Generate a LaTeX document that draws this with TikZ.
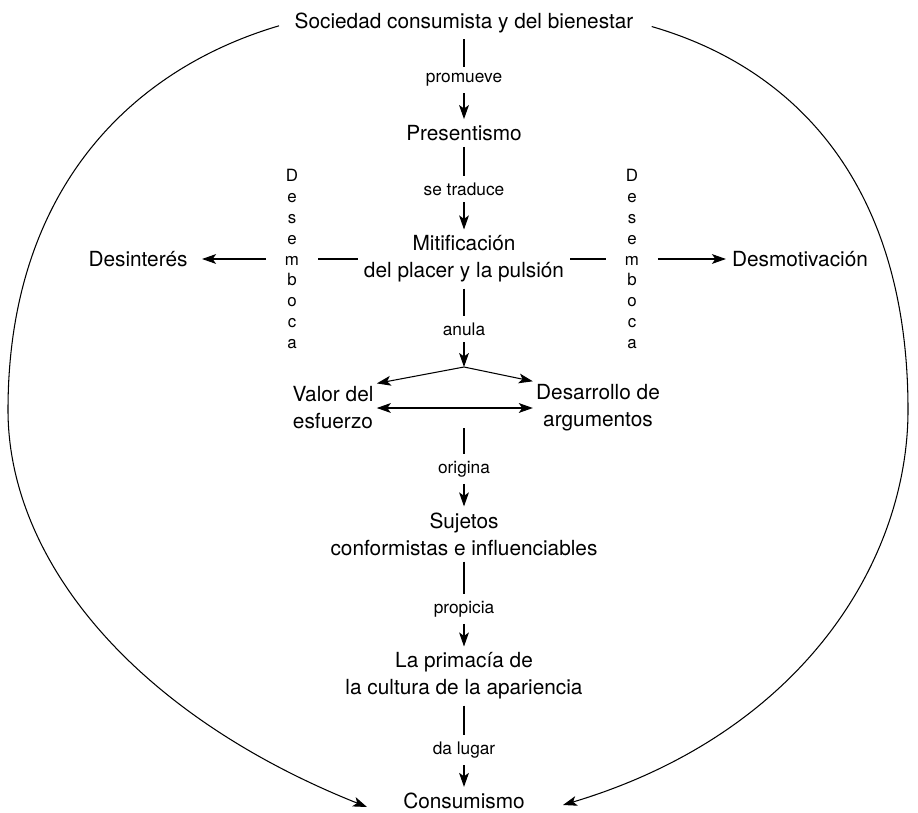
\documentclass[tikz,border=0pt]{standalone}
\usepackage{fontspec}
\setmainfont{TeX Gyre Heros}
\usetikzlibrary{arrows.meta}

\tikzset{
  main/.style={font=\fontsize{14.8}{19.2}\selectfont, align=center, inner sep=4pt},
  lbl/.style={font=\fontsize{12.3}{14}\selectfont, inner sep=4.5pt},
  vword/.style={font=\fontsize{12}{14.9}\selectfont, align=center, inner xsep=13pt},
  tip/.style={-{Stealth[length=10pt,width=7pt,inset=2.5pt]}},
  dtip/.style={{Stealth[length=10pt,width=7pt,inset=2.5pt]}-{Stealth[length=10pt,width=7pt,inset=2.5pt]}},
}

\begin{document}
\begin{tikzpicture}[x=0.025cm, y=-0.025cm, line width=0.75pt]
\useasboundingbox (0,0) rectangle (918,813);

\node[main] (soc) at (464,23) {Sociedad consumista y del bienestar};
\node[lbl] (promueve) at (464,80) {promueve};
\node[main] (pres) at (464,133) {Presentismo};
\node[lbl] (traduce) at (464,189) {se traduce};
\node[main] (mit) at (464,259) {Mitificación\\del placer y la pulsión};
\node[lbl] (anula) at (464,329) {anula};
\coordinate (split) at (464,367);
\node[main, inner sep=2pt] (valor) at (333,408) {Valor del\\esfuerzo};
\node[main, inner sep=2pt] (desarr) at (598,408) {Desarrollo de\\argumentos};
\coordinate (orig) at (464,428);
\node[lbl] (origina) at (464,469) {origina};
\node[main] (suj) at (464,534) {Sujetos\\conformistas e influenciables};
\node[lbl] (propicia) at (464,609) {propicia};
\node[main] (prim) at (464,676) {La primacía de\\la cultura de la apariencia};
\node[lbl] (lugar) at (464,750) {da lugar};
\node[main] (cons) at (464,801) {Consumismo};

\node[main, inner xsep=10pt] (desint) at (138,259) {Desinterés};
\node[main] (desmot) at (800,259) {Desmotivación};
\node[vword] (dizq) at (292,259) {D\\e\\s\\e\\m\\b\\o\\c\\a};
\node[vword] (dder) at (632,259) {D\\e\\s\\e\\m\\b\\o\\c\\a};

\draw (soc) -- (promueve);
\draw[tip] (promueve) -- (pres);
\draw (pres) -- (traduce);
\draw[tip] (traduce) -- (mit);
\draw (mit) -- (anula);
\draw[tip] (anula) -- (split);
\draw[tip] (split) -- (valor.north east);
\draw[tip] (split) -- (desarr.north west);
\draw[dtip] (valor) -- (desarr);
\draw (orig) -- (origina);
\draw[tip] (origina) -- (suj);
\draw (suj) -- (propicia);
\draw[tip] (propicia) -- (prim);
\draw (prim) -- (lugar);
\draw[tip] (lugar) -- (cons);

\draw (mit) -- (dizq);
\draw[tip] (dizq) -- (desint);
\draw (mit) -- (dder);
\draw[tip] (dder) -- (desmot);

\coordinate (izq) at (367,807);
\coordinate (der) at (563,805);
\draw[tip, shorten <=7pt] (soc.west) .. controls (126,71) and (8,195) .. (8,410)
  .. controls (8,560) and (134,714) .. (izq);
\draw[tip, shorten <=9pt] (soc.east) .. controls (805,71) and (908,195) .. (908,410)
  .. controls (908,560) and (803,733) .. (der);
\end{tikzpicture}
\end{document}
